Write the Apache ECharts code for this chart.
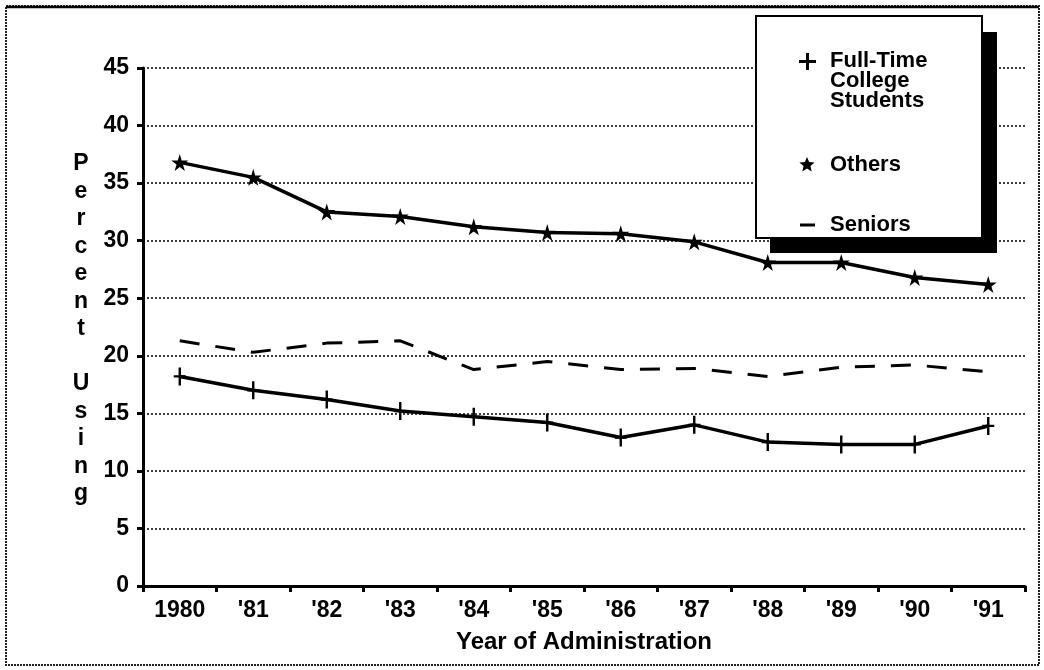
<!DOCTYPE html>
<html>
<head>
<meta charset="utf-8">
<script src="https://cdn.jsdelivr.net/npm/echarts@6/dist/echarts.min.js"></script>
<style>
html,body{margin:0;padding:0;background:#fff;}
#chart{width:1044px;height:670px;}
</style>
</head>
<body>
<div id="chart"></div>
<script>
var categories = ['1980', "'81", "'82", "'83", "'84", "'85", "'86", "'87", "'88", "'89", "'90", "'91"];
var seriesNames = ['Full-Time\nCollege\nStudents', 'Others', 'Seniors'];
var collegeValues = [18.2, 17.0, 16.2, 15.2, 14.7, 14.2, 12.9, 14.0, 12.5, 12.3, 12.3, 13.9];
var othersValues = [36.8, 35.5, 32.5, 32.1, 31.2, 30.7, 30.6, 29.9, 28.1, 28.1, 26.8, 26.2];
var seniorsValues = [21.3, 20.3, 21.1, 21.3, 18.8, 19.5, 18.8, 18.9, 18.2, 19.0, 19.2, 18.6];
var yTicks = { min: 0, max: 45, interval: 5 };
var xAxisTitle = 'Year of Administration';
var yAxisTitle = 'P\ne\nr\nc\ne\nn\nt\n\nU\ns\ni\nn\ng';

var FONT = '"Liberation Sans", Arial, Helvetica, sans-serif';
var plusPath = 'path://M4,0 L6,0 L6,7 L10,7 L10,9 L6,9 L6,16 L4,16 L4,9 L0,9 L0,7 L4,7 Z';
var starPath = 'path://M50,0 L61,35 L98,35 L68,57 L79,91 L50,70 L21,91 L32,57 L2,35 L39,35 Z';

function starPoints(cx, cy, r) {
  var pts = [];
  for (var i = 0; i < 10; i++) {
    var rr = i % 2 === 0 ? r : r * 0.45;
    var a = -Math.PI / 2 + i * Math.PI / 5;
    pts.push([cx + rr * Math.cos(a), cy + rr * Math.sin(a)]);
  }
  return pts;
}

var chart = echarts.init(document.getElementById('chart'), null, { renderer: 'canvas' });
chart.setOption({
  animation: false,
  backgroundColor: '#ffffff',
  grid: { left: 143, right: 19, top: 68, bottom: 84, containLabel: false },
  xAxis: {
    type: 'category',
    data: categories,
    boundaryGap: true,
    name: xAxisTitle,
    nameLocation: 'middle',
    nameGap: 44,
    nameTextStyle: { fontFamily: FONT, fontWeight: 'bold', fontSize: 24, color: '#000' },
    axisLine: { show: true, lineStyle: { color: '#000', width: 3 } },
    axisTick: { show: true, alignWithLabel: false, length: 6, lineStyle: { color: '#000', width: 3 } },
    axisLabel: { fontFamily: FONT, fontWeight: 'bold', fontSize: 23, color: '#000', margin: 13 },
    splitLine: { show: false }
  },
  yAxis: {
    type: 'value',
    min: yTicks.min, max: yTicks.max, interval: yTicks.interval,
    axisLine: { show: true, lineStyle: { color: '#000', width: 3 } },
    axisTick: { show: true, length: 6, lineStyle: { color: '#000', width: 3 } },
    axisLabel: { fontFamily: FONT, fontWeight: 'bold', fontSize: 23, color: '#000', margin: 14 },
    splitLine: { show: true, lineStyle: { color: '#111', width: 1.6, type: [2, 2] } }
  },
  series: [
    {
      name: seriesNames[0], type: 'line', data: collegeValues,
      symbol: plusPath, symbolSize: [12, 18], showSymbol: true,
      itemStyle: { color: '#000' },
      lineStyle: { color: '#000', width: 3.5 }, z: 3
    },
    {
      name: seriesNames[1], type: 'line', data: othersValues,
      symbol: starPath, symbolSize: 17, showSymbol: true,
      itemStyle: { color: '#000' },
      lineStyle: { color: '#000', width: 3.5 }, z: 3
    },
    {
      name: seriesNames[2], type: 'line', data: seniorsValues,
      symbol: 'none', showSymbol: false,
      lineStyle: { color: '#000', width: 3, type: [20, 16] }, z: 3
    }
  ],
  graphic: [
    { type: 'rect', shape: { x: 6, y: 6, width: 1033, height: 659 }, style: { fill: 'none', stroke: '#222', lineWidth: 2, lineDash: [2, 1] }, z: 1 },
    { type: 'line', shape: { x1: 6, y1: 7, x2: 1039, y2: 7 }, style: { stroke: '#000', lineWidth: 2.5 }, z: 1 },
    { type: 'text', x: 81, y: 329, style: { text: yAxisTitle, fontFamily: FONT, fontWeight: 'bold', fontSize: 23, lineHeight: 27.5, fill: '#000', align: 'center', verticalAlign: 'middle' }, z: 5 },
    { type: 'rect', shape: { x: 770, y: 32, width: 227, height: 221 }, style: { fill: '#000' }, z: 10 },
    { type: 'rect', shape: { x: 756, y: 16, width: 226, height: 222 }, style: { fill: '#fff', stroke: '#000', lineWidth: 2 }, z: 11 },
    { type: 'rect', shape: { x: 806, y: 53, width: 3, height: 17 }, style: { fill: '#000' }, z: 12 },
    { type: 'rect', shape: { x: 799, y: 60, width: 17, height: 3 }, style: { fill: '#000' }, z: 12 },
    { type: 'text', x: 830, y: 81, style: { text: seriesNames[0], fontFamily: FONT, fontWeight: 'bold', fontSize: 22, lineHeight: 20, fill: '#000', align: 'left', verticalAlign: 'middle' }, z: 12 },
    { type: 'polygon', shape: { points: starPoints(807, 165, 8) }, style: { fill: '#000' }, z: 12 },
    { type: 'text', x: 830, y: 165, style: { text: seriesNames[1], fontFamily: FONT, fontWeight: 'bold', fontSize: 22, fill: '#000', align: 'left', verticalAlign: 'middle' }, z: 12 },
    { type: 'line', shape: { x1: 800, y1: 225, x2: 815, y2: 225 }, style: { stroke: '#000', lineWidth: 3 }, z: 12 },
    { type: 'text', x: 830, y: 225, style: { text: seriesNames[2], fontFamily: FONT, fontWeight: 'bold', fontSize: 22, fill: '#000', align: 'left', verticalAlign: 'middle' }, z: 12 }
  ]
});
</script>
</body>
</html>
